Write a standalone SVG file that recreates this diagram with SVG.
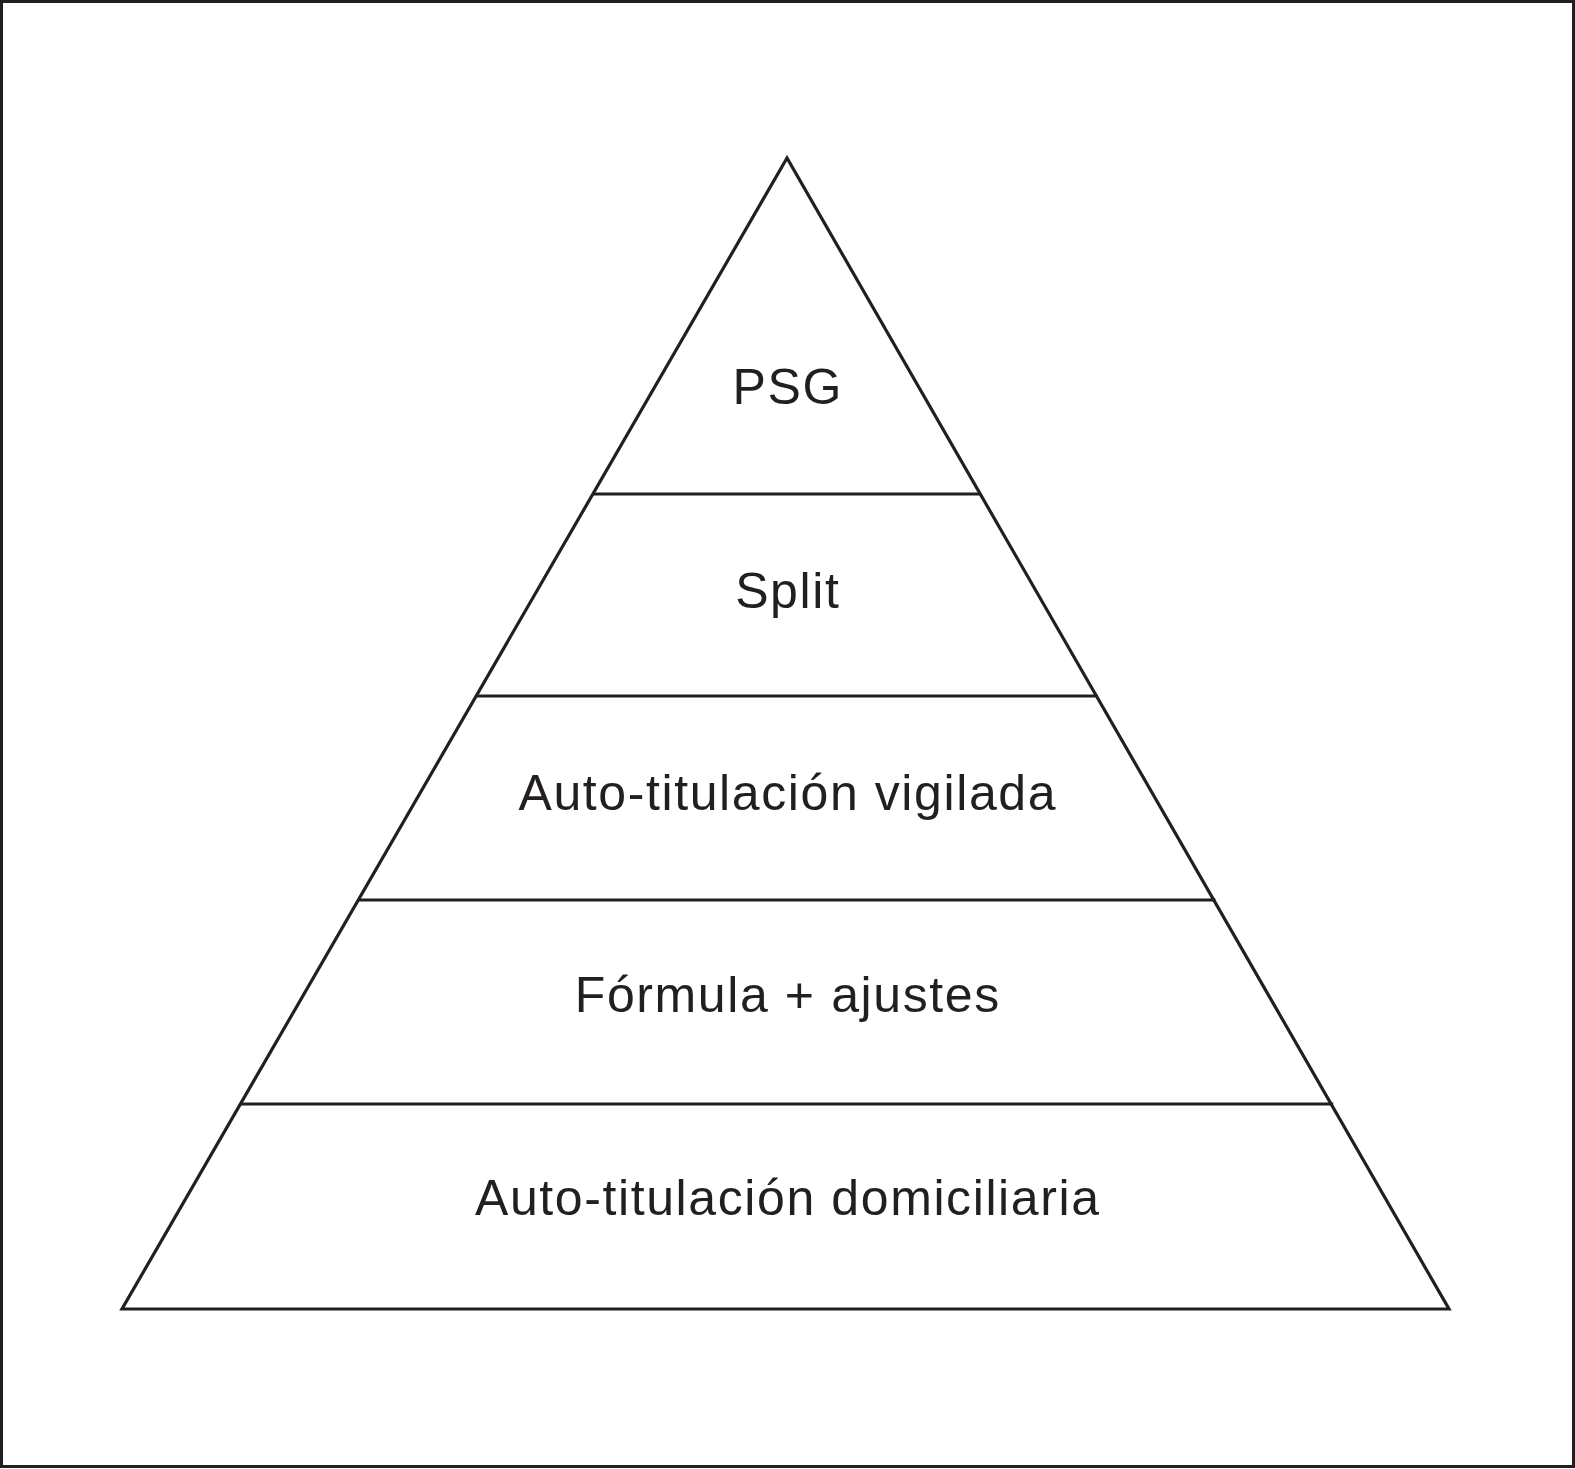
<svg xmlns="http://www.w3.org/2000/svg" width="1575" height="1469" viewBox="0 0 1575 1469">
<style>
.ln{stroke:#231f20;stroke-width:3.2;fill:none}
.t{font-family:"Liberation Sans",Arial,sans-serif;font-size:50px;letter-spacing:1.6px;fill:#231f20;text-anchor:middle}
</style>
<rect x="0" y="0" width="1575" height="1469" fill="#fff"/>
<rect x="1.5" y="1.5" width="1572" height="1465" fill="none" stroke="#231f20" stroke-width="3"/>
<g id="pyramid">
<polygon class="ln" points="787,158 122,1309 1449,1309" stroke-linejoin="miter"/>
</g>
<g id="connectors">
<line class="ln" x1="592.7" y1="494" x2="980.9" y2="494"/>
<line class="ln" x1="475.9" y1="696" x2="1097.6" y2="696"/>
<line class="ln" x1="357.9" y1="900" x2="1215.4" y2="900"/>
<line class="ln" x1="239.9" y1="1104" x2="1333.2" y2="1104"/>
</g>
<g id="n1"><text class="t" x="787.8" y="404">PSG</text></g>
<g id="n2"><text class="t" x="787.8" y="608">Split</text></g>
<g id="n3"><text class="t" x="787.8" y="810">Auto-titulación vigilada</text></g>
<g id="n4"><text class="t" x="787.8" y="1012">Fórmula + ajustes</text></g>
<g id="n5"><text class="t" x="787.8" y="1215">Auto-titulación domiciliaria</text></g>
</svg>
